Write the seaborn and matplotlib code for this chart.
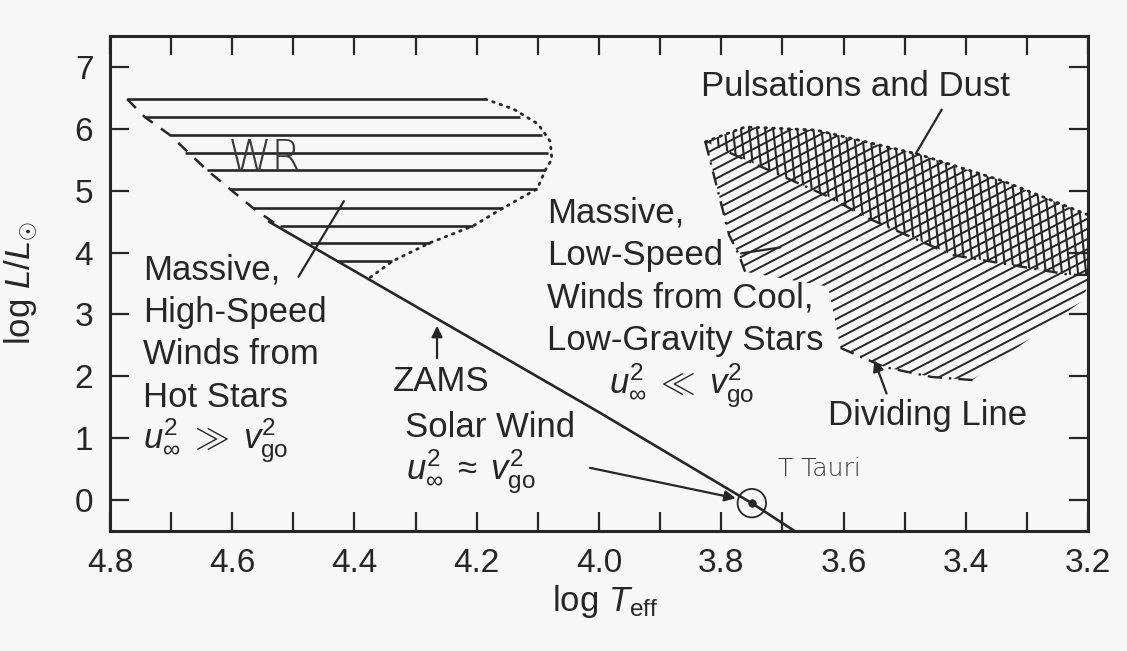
import numpy as np
import pandas as pd
import seaborn as sns
import matplotlib.pyplot as plt
from matplotlib.collections import LineCollection
from matplotlib.patches import Polygon

# ---- data ----
# x ticks (log Teff) and y ticks (log L/Lsun)
xtick_vals = [4.8, 4.6, 4.4, 4.2, 4.0, 3.8, 3.6, 3.4, 3.2]
xtick_labels = ["4.8", "4.6", "4.4", "4.2", "4.0", "3.8", "3.6", "3.4", "3.2"]
ytick_vals = [0, 1, 2, 3, 4, 5, 6, 7]

# ZAMS (solid part) and its dashed upper part along the WR region
zams_x = [4.54, 4.00, 3.75, 3.68]
zams_y = [4.50, 1.42, -0.05, -0.50]
zams_upper_x = [4.772, 4.743, 4.702, 4.641, 4.566, 4.53]
zams_upper_y = [6.48, 6.19, 5.90, 5.33, 4.72, 4.47]

# WR region: horizontal hatch lines (y, left end, right end)
wr_y = [6.48, 6.19, 5.90, 5.61, 5.33, 5.03, 4.72, 4.43, 4.16, 3.86]
wr_left = [4.772, 4.743, 4.702, 4.677, 4.641, 4.604, 4.566, 4.522, 4.473, 4.428]
wr_right = [4.186, 4.129, 4.093, 4.083, 4.088, 4.101, 4.157, 4.206, 4.276, 4.338]
# dotted right edge of WR region
wr_edge_x = [4.186, 4.14, 4.10, 4.080, 4.077, 4.088, 4.101, 4.157, 4.206, 4.276, 4.338, 4.374]
wr_edge_y = [6.48, 6.32, 6.08, 5.80, 5.51, 5.33, 5.03, 4.72, 4.43, 4.16, 3.86, 3.60]

# cool low-gravity star wind region (outline)
cool_x = [3.826, 3.761, 3.645, 3.478, 3.340, 3.200, 3.200, 3.212, 3.389,
          3.456, 3.533, 3.605, 3.625, 3.761, 3.771, 3.787]
cool_y = [5.79, 6.03, 5.98, 5.59, 5.16, 4.61, 3.46, 3.20, 1.94,
          1.99, 2.15, 2.46, 3.45, 3.69, 3.96, 4.28]

# pulsations and dust sub-region (cross hatched)
dust_x = [3.826, 3.761, 3.645, 3.478, 3.340, 3.200, 3.200, 3.229, 3.422, 3.561, 3.626, 3.790]
dust_y = [5.79, 6.03, 5.98, 5.59, 5.16, 4.61, 3.64, 3.64, 3.96, 4.56, 4.91, 5.63]

# Sun / T Tauri point
sun_x = [3.75]
sun_y = [-0.05]

INK = "#262626"
BG = "#f7f7f7"

# ---- style ----
sns.set_theme(style="ticks")
plt.rcParams["font.family"] = ["Liberation Sans", "DejaVu Sans"]
plt.rcParams["mathtext.fontset"] = "custom"
plt.rcParams["mathtext.rm"] = "Liberation Sans"
plt.rcParams["mathtext.it"] = "Liberation Sans:italic"
plt.rcParams["mathtext.sf"] = "Liberation Sans"
plt.rcParams["text.color"] = INK
plt.rcParams["axes.labelcolor"] = INK

fig = plt.figure(figsize=(11.27, 6.51), dpi=100, facecolor=BG)
ax = fig.add_axes([0.0976, 0.1843, 0.8678, 0.7604], facecolor=BG)

ax.set_xlim(4.8, 3.2)
ax.set_ylim(-0.5, 7.5)

# ZAMS
zams_df = pd.DataFrame({"x": zams_x, "y": zams_y})
sns.lineplot(data=zams_df, x="x", y="y", sort=False, estimator=None,
             color=INK, lw=1.9, ax=ax)
ax.plot(zams_upper_x, zams_upper_y, color=INK, lw=1.8, ls=(0, (5, 4)))

# WR hatch lines + dotted edge
ax.hlines(wr_y, wr_left, wr_right, color=INK, lw=1.9)
ax.plot(wr_edge_x, wr_edge_y, color=INK, lw=2.0, ls=(0, (0.6, 2.2)),
        dash_capstyle="round")

# cool region hatching, clipped to the outline
# pixel scale of the axes: 611 px per x unit, 61.9 px per y unit
sx, sy = 611.0, 61.86


def hatch(poly_x, poly_y, angle_deg, step_px):
    # parallel lines at angle (in screen space), step in px
    a = np.deg2rad(angle_deg)
    dx, dy = np.cos(a), np.sin(a)
    nx, ny = -dy, dx
    px = (4.8 - np.array(poly_x)) * sx
    py = np.array(poly_y) * sy
    proj = px * nx + py * ny
    segs = []
    for c in np.arange(proj.min() - step_px, proj.max() + step_px, step_px):
        p0 = np.array([nx * c, ny * c])
        t = np.array([-2000, 2000])
        xs = p0[0] + t * dx
        ys = p0[1] + t * dy
        segs.append([(4.8 - xs[0] / sx, ys[0] / sy), (4.8 - xs[1] / sx, ys[1] / sy)])
    return segs


cool_patch = Polygon(np.column_stack([cool_x, cool_y]), closed=True,
                     fill=False, edgecolor="none", transform=ax.transData)
ax.add_patch(cool_patch)
lc = LineCollection(hatch(cool_x, cool_y, 27.5, 9.0), colors=INK, linewidths=1.4)
ax.add_collection(lc)
lc.set_clip_path(cool_patch)

dust_patch = Polygon(np.column_stack([dust_x, dust_y]), closed=True,
                     fill=False, edgecolor="none", transform=ax.transData)
ax.add_patch(dust_patch)
lc2 = LineCollection(hatch(dust_x, dust_y, 96, 8.0), colors=INK, linewidths=1.5)
ax.add_collection(lc2)
lc2.set_clip_path(dust_patch)

# region edges
ax.plot(cool_x[0:6], cool_y[0:6], color=INK, lw=2.0, ls=(0, (0.6, 2.2)),
        dash_capstyle="round")
ax.plot([cool_x[0]] + cool_x[:12:-1], [cool_y[0]] + cool_y[:12:-1],
        color=INK, lw=1.7, ls=(0, (6, 3, 1, 3)))
ax.plot(cool_x[8:12], cool_y[8:12], color=INK, lw=1.7, ls=(0, (6, 3, 1, 3)))
ax.plot(dust_x[6:], dust_y[6:], color=INK, lw=1.7, ls=(0, (6, 3, 1, 3)))

# Sun symbol
sun_df = pd.DataFrame({"x": sun_x, "y": sun_y})
sns.scatterplot(data=sun_df, x="x", y="y", s=420, facecolor="none",
                edgecolor=INK, linewidth=1.3, ax=ax, zorder=5)
sns.scatterplot(data=sun_df, x="x", y="y", s=30, color=INK, edgecolor=INK,
                ax=ax, zorder=6)

# ---- texts ----
fs = 25
ls_txt = 1.36
ax.text(4.746, 2.69, "Massive,\nHigh-Speed\nWinds from\nHot Stars",
        fontsize=fs, ha="left", va="center", linespacing=ls_txt)
ax.text(4.746, 0.95, r"$u_{\infty}^{2}\;\gg\;v_{\rm go}^{2}$",
        fontsize=fs, ha="left", va="center")
ax.annotate("", xy=(4.415, 4.87), xytext=(4.494, 3.57),
            arrowprops=dict(arrowstyle="-", color=INK, lw=1.6))

ax.text(4.258, 1.91, "ZAMS", fontsize=fs, ha="center", va="center")
ax.annotate("", xy=(4.265, 2.86), xytext=(4.265, 2.25),
            arrowprops=dict(arrowstyle="-|>", color=INK, lw=1.6,
                            mutation_scale=16))
ax.text(4.178, 1.18, "Solar Wind", fontsize=fs, ha="center", va="center")
ax.text(4.21, 0.45, r"$u_{\infty}^{2}\;\approx\;v_{\rm go}^{2}$",
        fontsize=fs, ha="center", va="center")
ax.annotate("", xy=(3.772, 0.02), xytext=(4.019, 0.53),
            arrowprops=dict(arrowstyle="-|>", color=INK, lw=1.6,
                            mutation_scale=16))

ax.text(4.085, 3.61, "Massive,\nLow-Speed\nWinds from Cool,\nLow-Gravity Stars",
        fontsize=fs, ha="left", va="center", linespacing=ls_txt)
ax.text(3.864, 1.84, r"$u_{\infty}^{2}\;\ll\;v_{\rm go}^{2}$",
        fontsize=fs, ha="center", va="center")
ax.annotate("", xy=(3.699, 4.09), xytext=(3.772, 3.98),
            arrowprops=dict(arrowstyle="-", color=INK, lw=1.6))

ax.text(3.581, 6.69, "Pulsations and Dust", fontsize=fs, ha="center", va="center")
ax.annotate("", xy=(3.484, 5.56), xytext=(3.437, 6.35),
            arrowprops=dict(arrowstyle="-", color=INK, lw=1.6))

ax.text(3.625, 1.36, "Dividing Line", fontsize=fs, ha="left", va="center")
ax.annotate("", xy=(3.551, 2.30), xytext=(3.528, 1.68),
            arrowprops=dict(arrowstyle="-|>", color=INK, lw=1.6,
                            mutation_scale=16))

# handwritten labels
ax.text(4.546, 5.51, "WR", fontsize=32, ha="center", va="center",
        family=["DejaVu Sans"], fontweight="light", color="#3a3a3a")
ax.text(3.64, 0.50, "T Tauri", fontsize=18, ha="center", va="center",
        family=["DejaVu Sans"], fontweight="light", color="#3a3a3a")

# ---- axes ----
ax.set_xticks(xtick_vals)
ax.set_xticklabels(xtick_labels)
ax.set_xticks(np.arange(4.7, 3.25, -0.2), minor=True)
ax.set_yticks(ytick_vals)
ax.set_yticklabels([str(v) for v in ytick_vals])
ax.tick_params(which="both", direction="in", top=True, right=True,
               length=14, width=1.6, color=INK, labelcolor=INK,
               labelsize=24)
ax.tick_params(axis="x", pad=12)
ax.tick_params(axis="y", pad=12)
for s in ax.spines.values():
    s.set_linewidth(2.2)
    s.set_color(INK)

ax.set_xlabel(r"$\log\,T_{\rm eff}$", fontsize=25)
ax.set_ylabel(r"$\log\,L/L_{\odot}$", fontsize=25)
ax.xaxis.set_label_coords(0.506, -0.105)
ax.yaxis.set_label_coords(-0.072, 0.5)
ax.grid(False)

plt.savefig("out.png", dpi=100, facecolor=BG)
plt.close()
